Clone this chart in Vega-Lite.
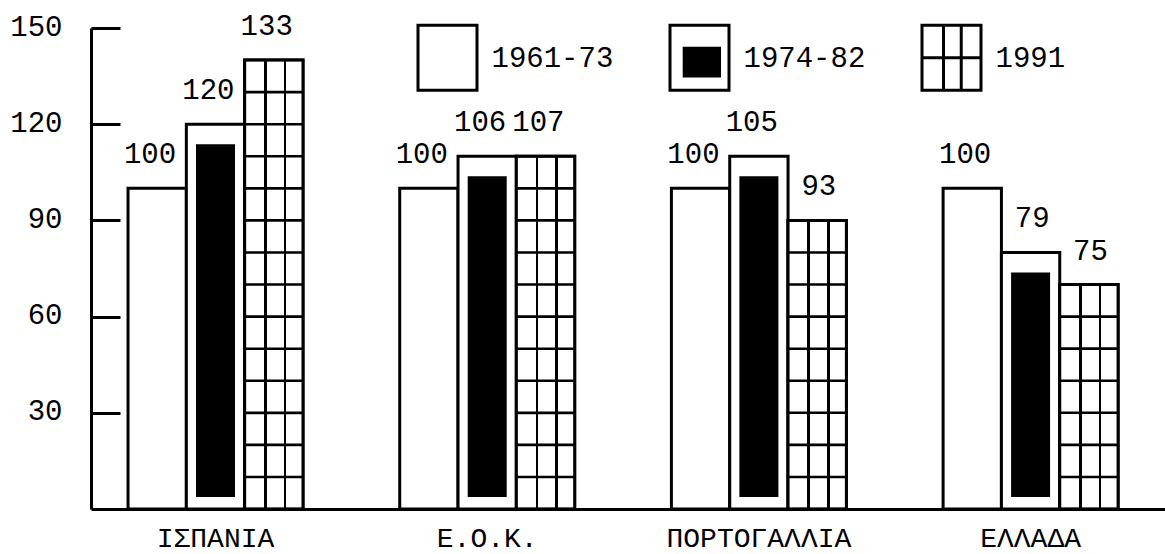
{
  "$schema": "https://vega.github.io/schema/vega-lite/v6.json",
  "width": 1074,
  "height": 481,
  "autosize": {"type": "none"},
  "padding": {"left": 91, "top": 28, "right": 0, "bottom": 45},
  "background": "white",
  "config": {"view": {"stroke": null}, "font": "Liberation Mono"},
  "data": {
    "values": [
      {"country": "ΙΣΠΑΝΙΑ", "series": "1961-73", "value": 100, "label": "100"},
      {"country": "ΙΣΠΑΝΙΑ", "series": "1974-82", "value": 120, "label": "120"},
      {"country": "ΙΣΠΑΝΙΑ", "series": "1991", "value": 140, "label": "133"},
      {"country": "Ε.Ο.Κ.", "series": "1961-73", "value": 100, "label": "100"},
      {"country": "Ε.Ο.Κ.", "series": "1974-82", "value": 110, "label": "106"},
      {"country": "Ε.Ο.Κ.", "series": "1991", "value": 110, "label": "107"},
      {"country": "ΠΟΡΤΟΓΑΛΛΙΑ", "series": "1961-73", "value": 100, "label": "100"},
      {"country": "ΠΟΡΤΟΓΑΛΛΙΑ", "series": "1974-82", "value": 110, "label": "105"},
      {"country": "ΠΟΡΤΟΓΑΛΛΙΑ", "series": "1991", "value": 90, "label": "93"},
      {"country": "ΕΛΛΑΔΑ", "series": "1961-73", "value": 100, "label": "100"},
      {"country": "ΕΛΛΑΔΑ", "series": "1974-82", "value": 80, "label": "79"},
      {"country": "ΕΛΛΑΔΑ", "series": "1991", "value": 70, "label": "75"}
    ]
  },
  "encoding": {
    "x": {
      "field": "country",
      "type": "nominal",
      "sort": ["ΙΣΠΑΝΙΑ", "Ε.Ο.Κ.", "ΠΟΡΤΟΓΑΛΛΙΑ", "ΕΛΛΑΔΑ"],
      "scale": {"paddingInner": 0.356, "paddingOuter": 0.1545, "align": 0.441},
      "axis": {
        "title": null,
        "labelAngle": 0,
        "ticks": false,
        "domainColor": "black",
        "domainWidth": 3,
        "labelFont": "Liberation Mono",
        "labelFontSize": 28,
        "labelColor": "black",
        "labelPadding": 37,
        "labelBaseline": "alphabetic",
        "labelLimit": 500
      }
    },
    "xOffset": {
      "field": "series",
      "type": "nominal",
      "sort": ["1961-73", "1974-82", "1991"],
      "scale": {"paddingInner": 0, "paddingOuter": 0}
    },
    "y": {
      "field": "value",
      "type": "quantitative",
      "scale": {"domain": [0, 150], "nice": false, "zero": true},
      "axis": {
        "title": null,
        "values": [30, 60, 90, 120, 150],
        "grid": false,
        "domainColor": "black",
        "domainWidth": 3,
        "tickColor": "black",
        "tickWidth": 3,
        "tickSize": -29,
        "labelPadding": 58,
        "labelFont": "Liberation Mono",
        "labelFontSize": 29,
        "labelColor": "black",
        "labelOffset": -2
      }
    }
  },
  "layer": [
    {
      "mark": {"type": "bar", "stroke": "black", "strokeWidth": 3},
      "encoding": {
        "fill": {
          "field": "series",
          "type": "nominal",
          "sort": ["1961-73", "1974-82", "1991"],
          "scale": {"range": ["white", "white", "white"]},
          "legend": {
            "title": null,
            "orient": "none",
            "legendX": 325.5,
            "legendY": -1.5,
            "direction": "horizontal",
            "columns": 3,
            "symbolSize": 3481,
            "symbolType": "square",
            "symbolStrokeWidth": 3,
            "symbolStrokeColor": "black",
            "labelFont": "Liberation Mono",
            "labelFontSize": 29,
            "labelColor": "black",
            "labelOffset": 13,
            "labelLimit": 400,
            "columnPadding": 50,
            "padding": 0,
            "encode": {
              "symbols": {
                "update": {
                  "shape": {"signal": "datum.value === '1991' ? 'M-1,-1.1H1V1.1H-1Z M-0.27,-1.1V1.1 M0.33,-1.1V1.1 M-1,0H1' : datum.value === '1974-82' ? 'M-1,-1.1H1V1.1H-1Z M-0.57,-0.32H0.73 M-0.57,-0.24H0.73 M-0.57,-0.16H0.73 M-0.57,-0.08H0.73 M-0.57,0H0.73 M-0.57,0.08H0.73 M-0.57,0.16H0.73 M-0.57,0.24H0.73 M-0.57,0.32H0.73 M-0.57,0.4H0.73 M-0.57,0.48H0.73 M-0.57,0.56H0.73 M-0.57,0.62H0.73' : 'M-1,-1.1H1V1.1H-1Z'"},
                  "stroke": {"value": "black"},
                  "strokeWidth": {"value": 3}
                }
              }
            }
          }
        }
      }
    },
    {
      "transform": [{"filter": "datum.series === '1974-82'"}],
      "mark": {"type": "bar", "fill": "black", "width": 39, "yOffset": 20, "y2Offset": -12},
      "encoding": {
        "y2": {"datum": 0}
      }
    },
    {
      "transform": [{"filter": "datum.series === '1991'"}],
      "mark": {
        "type": "bar",
        "stroke": "black",
        "strokeWidth": 3,
        "fill": {
          "gradient": "linear",
          "x1": 0, "y1": 0, "x2": 1, "y2": 0,
          "stops": [
            {"offset": 0, "color": "white"},
            {"offset": 0.332, "color": "white"},
            {"offset": 0.332, "color": "black"},
            {"offset": 0.378, "color": "black"},
            {"offset": 0.378, "color": "white"},
            {"offset": 0.667, "color": "white"},
            {"offset": 0.667, "color": "black"},
            {"offset": 0.713, "color": "black"},
            {"offset": 0.713, "color": "white"},
            {"offset": 1, "color": "white"}
          ]
        }
      }
    },
    {
      "transform": [{"filter": "datum.series === '1991'"}],
      "mark": {
        "type": "rule",
        "color": "black",
        "strokeWidth": 57,
        "strokeDash": [2.6, 29.47],
        "strokeDashOffset": 1.3,
        "strokeCap": "butt"
      },
      "encoding": {
        "y2": {"datum": 0}
      }
    },
    {
      "mark": {
        "type": "text",
        "align": "right",
        "baseline": "alphabetic",
        "dx": 19,
        "dy": -25,
        "font": "Liberation Mono",
        "fontSize": 29,
        "color": "black"
      },
      "encoding": {
        "text": {"field": "label"}
      }
    }
  ]
}
